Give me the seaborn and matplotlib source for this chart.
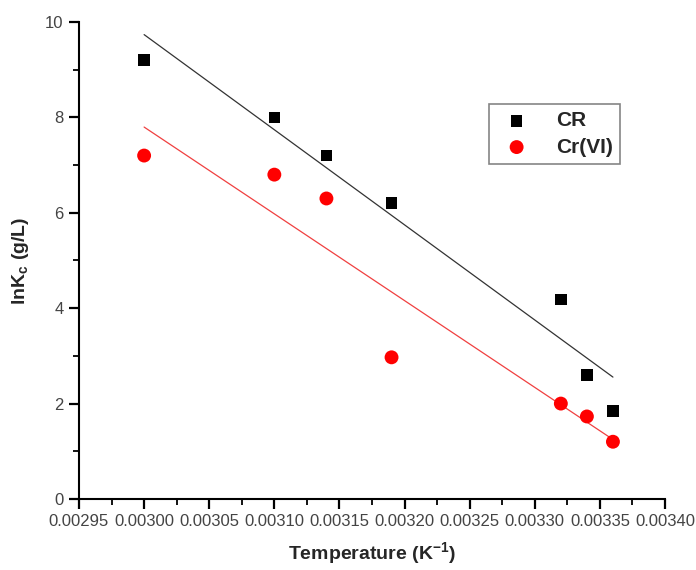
import pandas as pd
import numpy as np
import seaborn as sns
import matplotlib.pyplot as plt
from matplotlib.ticker import MultipleLocator, FormatStrFormatter

# 1/T values (K^-1) and lnKc for each series
inv_temp = [0.00300, 0.00310, 0.00314, 0.00319, 0.00332, 0.00334, 0.00336]
lnkc_cr = [9.2, 8.0, 7.2, 6.2, 4.18, 2.6, 1.85]
lnkc_cr6 = [7.2, 6.8, 6.3, 2.97, 2.0, 1.73, 1.2]

df = pd.DataFrame({
    "x": inv_temp * 2,
    "y": lnkc_cr + lnkc_cr6,
    "series": ["CR"] * len(inv_temp) + ["Cr(VI)"] * len(inv_temp),
})

sns.set_style("ticks")
plt.rcParams['font.family'] = ['Liberation Sans', 'DejaVu Sans']
plt.rcParams['mathtext.fontset'] = 'custom'
plt.rcParams['mathtext.rm'] = 'Liberation Sans:bold'
plt.rcParams['mathtext.bf'] = 'Liberation Sans:bold'

fig = plt.figure(figsize=(6.96, 5.70), dpi=100)
ax = fig.add_axes([0.1135, 0.1246, 0.842, 0.8368])

# fitted lines
sns.regplot(x="x", y="y", data=df[df.series == "CR"], scatter=False, ci=None,
            color="#333333", line_kws={"lw": 0.9}, ax=ax)
sns.regplot(x="x", y="y", data=df[df.series == "Cr(VI)"], scatter=False, ci=None,
            color="#f04040", line_kws={"lw": 0.9}, ax=ax)

# points
sns.scatterplot(x="x", y="y", data=df[df.series == "CR"], marker="s", s=70,
                color="black", edgecolor="none", label="CR", ax=ax, zorder=3)
sns.scatterplot(x="x", y="y", data=df[df.series == "Cr(VI)"], marker="o", s=100,
                color="#ff0000", edgecolor="none", label="Cr(VI)", ax=ax, zorder=3)

ax.set_xlim(0.00295, 0.00340)
ax.set_ylim(0, 10)
ax.xaxis.set_major_locator(MultipleLocator(0.00005))
ax.xaxis.set_minor_locator(MultipleLocator(0.000025))
ax.xaxis.set_major_formatter(FormatStrFormatter("%.5f"))
ax.yaxis.set_major_locator(MultipleLocator(2))
ax.yaxis.set_minor_locator(MultipleLocator(1))

sns.despine(ax=ax)
for s in ["left", "bottom"]:
    ax.spines[s].set_linewidth(1.5)
    ax.spines[s].set_color("black")
ax.tick_params(which="both", direction="out", left=True, bottom=True)
ax.tick_params(which="major", length=7, width=1.6, color="black",
               labelsize=12, labelcolor="#444444", pad=4)
ax.tick_params(which="minor", length=4.5, width=1.3, color="black")

ax.set_xlabel("Temperature (K$^{\\mathbf{-1}}$)", fontsize=14, fontweight="bold", labelpad=8)
ax.set_ylabel("lnK$_{\\mathbf{c}}$ (g/L)", fontsize=14, fontweight="bold", labelpad=10)

leg = ax.legend(loc="upper left", bbox_to_anchor=(0.681, 0.85), frameon=True,
                fancybox=False, edgecolor="#666666", prop={"weight": "bold", "size": 15},
                handletextpad=0.9, borderpad=0.35, labelspacing=0.35)
leg.get_frame().set_linewidth(1.2)

plt.savefig("out.png", dpi=100)
